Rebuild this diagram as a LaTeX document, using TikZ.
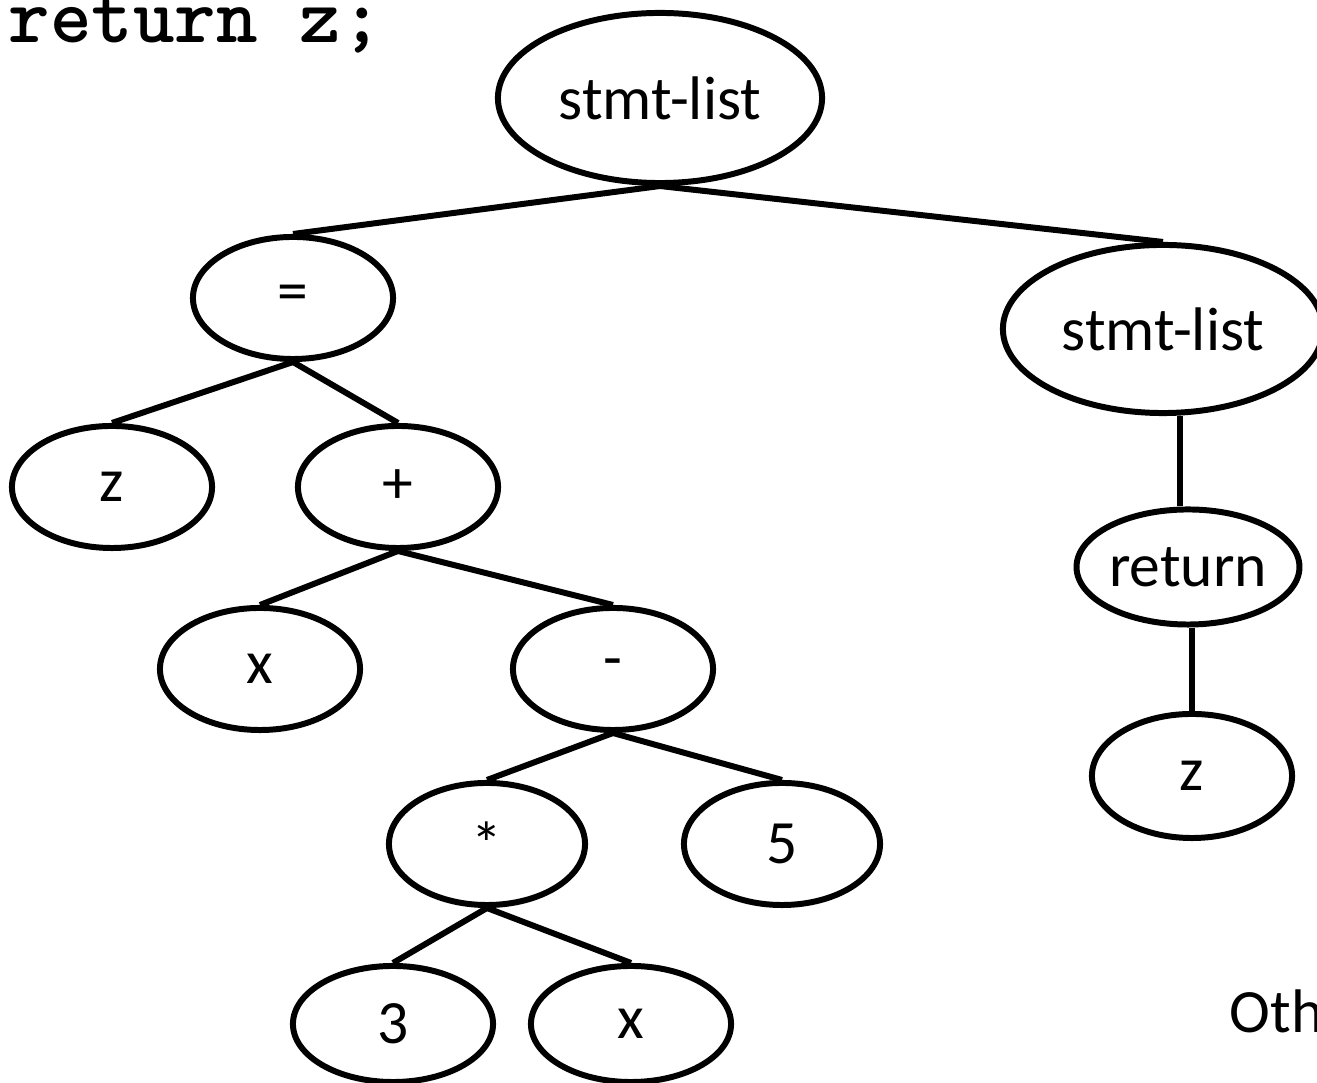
\documentclass[tikz,border=0pt]{standalone}
\usepackage{fontspec}
\setmainfont{Carlito}
\newfontfamily\codefont{Latin Modern Mono Light}
\usetikzlibrary{shapes.geometric}
\begin{document}
\begin{tikzpicture}[x=0.01cm, y=-0.01cm,
  ast/.style = {ellipse, draw = black, line width = 1.7pt, inner sep = 0pt,
                minimum width = 2cm, minimum height = 1.22cm,
                font = \fontsize{17.5}{20}\selectfont},
  listnode/.style = {ast, minimum width = 3.24cm, minimum height = 1.7cm}]
\useasboundingbox (0,0) rectangle (1317,1083);
% the source line
\node[anchor = base west, inner sep = 0pt, font = \codefont\bfseries\fontsize{22.5}{24}\selectfont] (code) at (8,43) {return z;};
% tree nodes
\node[listnode] (top) at (660,98) {stmt-list};
\node[ast] (assign) at (293,298) {=};
\node[listnode, minimum width = 3.2cm, minimum height = 1.68cm] (rest) at (1163,329) {stmt-list};
\node[ast] (lhs) at (112,487) {z};
\node[ast] (plus) at (398,487) {+};
\node[ast, minimum height = 1.15cm] (ret) at (1188,567) {return};
\node[ast, minimum height = 1.24cm] (retval) at (1192,776) {z};
\node[ast] (xa) at (260,669) {x};
\node[ast] (minus) at (613,669) {-};
\node[ast, minimum width = 1.96cm] (times) at (487,844) {*};
\node[ast, minimum width = 1.96cm] (five) at (782,844) {5};
\node[ast, minimum height = 1.16cm] (three) at (393,1024) {3};
\node[ast, minimum height = 1.16cm] (xb) at (631,1024) {x};
% edges
\foreach \a/\b in {top/assign, top/rest, assign/lhs, assign/plus, plus/xa, plus/minus,
                   minus/times, minus/five, times/three, times/xb}
  \draw[line width = 1.7pt] (\a.south) -- (\b.north);
\draw[line width = 1.7pt] (ret.north) ++(-8,0) coordinate (up) -- (up |- rest.south);
\draw[line width = 1.7pt] (retval.north) -- (retval.north |- ret.south);
\node[anchor = base west, inner sep = 0pt, font = \fontsize{17.5}{20}\selectfont] (other) at (1229,1033) {Oth};
\end{tikzpicture}
\end{document}
